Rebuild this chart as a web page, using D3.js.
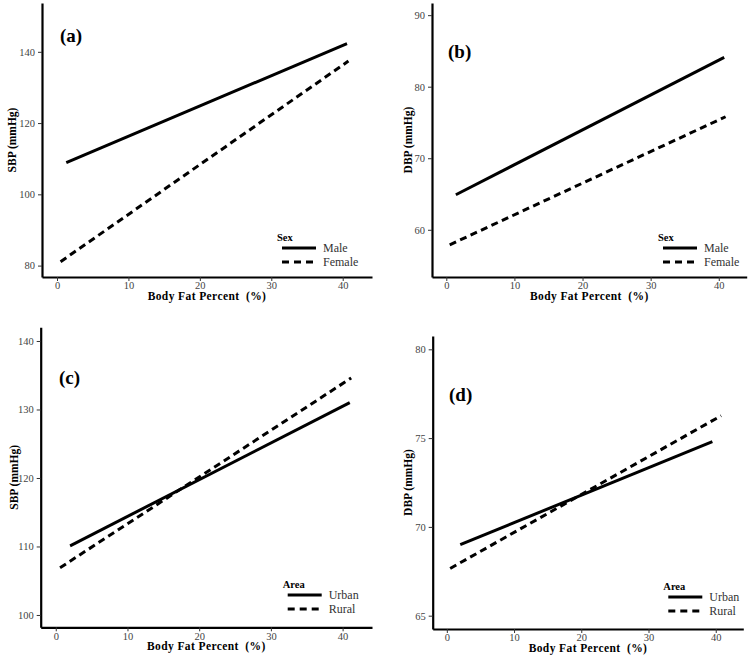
<!DOCTYPE html>
<html>
<head>
<meta charset="utf-8">
<script src="https://cdn.jsdelivr.net/npm/d3@7"></script>
<style>
  html, body { margin: 0; padding: 0; background: #fff; }
  svg { display: block; }
  text { font-family: "Liberation Serif", "DejaVu Serif", serif; }
</style>
</head>
<body>
<svg id="chart" width="751" height="655"></svg>
<script>
// ---------------- DATA ----------------
const xTicks = [0, 10, 20, 30, 40];
const xTitle = "Body Fat Percent  (%)";
const panelLabels = ["(a)", "(b)", "(c)", "(d)"];
const yTitles = ["SBP (mmHg)", "DBP (mmHg)", "SBP (mmHg)", "DBP (mmHg)"];
const legendTitles = ["Sex", "Sex", "Area", "Area"];
const sexGroups = ["Male", "Female"];
const areaGroups = ["Urban", "Rural"];

const yTicksA = [80, 100, 120, 140];
const yTicksB = [60, 70, 80, 90];
const yTicksC = [100, 110, 120, 130, 140];
const yTicksD = [65, 70, 75, 80];

// predicted lines: [body fat %, mmHg] at both ends
const sbpMale    = [[1.3, 108.9], [40.6, 142.3]];
const sbpFemale  = [[0.5, 81.1],  [40.8, 137.4]];
const dbpMale    = [[1.4, 64.9],  [40.8, 84.1]];
const dbpFemale  = [[0.5, 57.9],  [41.0, 75.8]];
const sbpUrban   = [[2.0, 110.1], [41.0, 131.0]];
const sbpRural   = [[0.6, 106.9], [41.2, 134.6]];
const dbpUrban   = [[2.0, 69.0],  [39.5, 74.8]];
const dbpRural   = [[0.5, 67.66], [40.8, 76.26]];

// ---------------- LAYOUT ----------------
const panels = [
  { label: panelLabels[0], yTitle: yTitles[0], legendTitle: legendTitles[0], groups: sexGroups,
    series: [sbpMale, sbpFemale], yTicks: yTicksA, yDomain: [76.8, 153.7],
    box: [42, 3, 372, 277], lab: [60, 42], leg: [277, 241], yTitleX: 12 },
  { label: panelLabels[1], yTitle: yTitles[1], legendTitle: legendTitles[1], groups: sexGroups,
    series: [dbpMale, dbpFemale], yTicks: yTicksB, yDomain: [53.4, 91.7],
    box: [432, 3, 746.7, 277], lab: [448, 58], leg: [658, 241], yTitleX: 407.7 },
  { label: panelLabels[2], yTitle: yTitles[2], legendTitle: legendTitles[2], groups: areaGroups,
    series: [sbpUrban, sbpRural], yTicks: yTicksC, yDomain: [98.2, 142],
    box: [40.7, 327.3, 372, 627.3], lab: [59, 384], leg: [282.7, 588], yTitleX: 14 },
  { label: panelLabels[3], yTitle: yTitles[3], legendTitle: legendTitles[3], groups: areaGroups,
    series: [dbpUrban, dbpRural], yTicks: yTicksD, yDomain: [64.25, 80.75],
    box: [432.7, 336, 743.3, 629], lab: [449, 401], leg: [663.3, 590], yTitleX: 407.7 }
];
const xDomain = [-2.1, 44.1];
const dashes = [null, "7,4.5"];
const SERIF = "'Liberation Serif', 'DejaVu Serif', serif";

const svg = d3.select("#chart");

panels.forEach(p => {
  const [l, t, r, b] = p.box;
  const x = d3.scaleLinear().domain(xDomain).range([l, r]);
  const y = d3.scaleLinear().domain(p.yDomain).range([b, t]);
  const g = svg.append("g");

  // axes
  const xa = g.append("g").attr("transform", `translate(0,${b})`)
    .call(d3.axisBottom(x).tickValues(xTicks).tickSize(4).tickSizeOuter(0).tickPadding(1));
  const ya = g.append("g").attr("transform", `translate(${l},0)`)
    .call(d3.axisLeft(y).tickValues(p.yTicks).tickSize(4).tickSizeOuter(0).tickPadding(3));
  [xa, ya].forEach(a => {
    a.attr("font-family", SERIF).attr("font-size", 10.5);
    a.select(".domain").attr("stroke", "#000").attr("stroke-width", 2.2);
    a.selectAll(".tick line").attr("stroke", "#333").attr("stroke-width", 1);
    a.selectAll(".tick text").attr("fill", "#444");
  });

  // lines
  const line = d3.line().x(d => x(d[0])).y(d => y(d[1]));
  p.series.forEach((s, i) => {
    g.append("path").datum(s).attr("d", line)
      .attr("fill", "none").attr("stroke", "#000").attr("stroke-width", 3)
      .attr("stroke-dasharray", dashes[i]);
  });

  // panel label
  g.append("text").attr("x", p.lab[0]).attr("y", p.lab[1])
    .style("font-size", "19px").style("font-weight", "bold").text(p.label);

  // axis titles
  g.append("text").attr("x", (l + r) / 2).attr("y", b + 23)
    .attr("text-anchor", "middle").style("font-size", "11.5px").style("font-weight", "bold")
    .style("letter-spacing", "0.4px").style("white-space", "pre")
    .text(xTitle);
  g.append("text")
    .attr("transform", `translate(${p.yTitleX},${(t + b) / 2}) rotate(-90)`)
    .attr("text-anchor", "middle").attr("dy", "0.35em")
    .style("font-size", "11.5px").style("font-weight", "bold")
    .text(p.yTitle);

  // legend
  const [lx, ly] = p.leg;
  g.append("text").attr("x", lx).attr("y", ly)
    .style("font-size", "10.5px").style("font-weight", "bold").text(p.legendTitle);
  p.groups.forEach((name, i) => {
    const yy = ly + 7 + i * 14;
    g.append("line").attr("x1", lx + 5).attr("x2", lx + 39).attr("y1", yy).attr("y2", yy)
      .attr("stroke", "#000").attr("stroke-width", 3).attr("stroke-dasharray", dashes[i] ? "7,5" : null);
    g.append("text").attr("x", lx + 46).attr("y", yy).attr("dy", "0.35em")
      .attr("fill", "#333").style("font-size", "12px").text(name);
  });
});
</script>
</body>
</html>
